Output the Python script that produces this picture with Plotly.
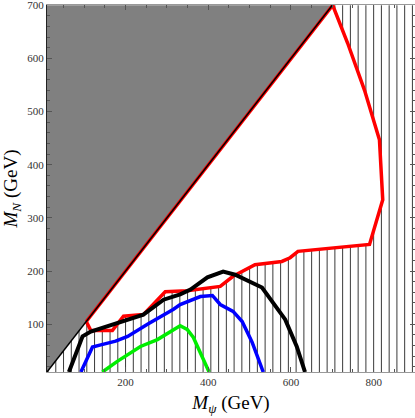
import numpy as np
import plotly.graph_objects as go

# contour curves (M_psi, M_N in GeV)
red_x = [105, 116, 168, 195, 243, 296, 349, 429, 460, 513, 578, 598, 617, 718, 742, 790, 822, 814, 778, 737, 701]
red_y = [105, 88, 88, 115, 118, 161, 163, 171, 190, 212, 218, 225, 237, 244, 246, 250, 334, 447, 540, 629, 700]

black_x = [63, 96, 116, 164, 219, 243, 292, 332, 357, 398, 436, 465, 530, 586, 614, 634]
black_y = [10, 77, 86, 98, 113, 118, 146, 156, 165, 188, 199, 193, 169, 109, 58, 10]

blue_x = [92, 120, 140, 176, 205, 253, 316, 332, 381, 410, 429, 460, 482, 506, 533]
blue_y = [10, 57, 61, 68, 77, 100, 128, 137, 152, 154, 137, 124, 105, 66, 10]

green_x = [144, 180, 236, 277, 332, 349, 364, 400, 402]
green_y = [10, 30, 58, 71, 97, 90, 75, 15, 10]

x_lo, x_hi = 10, 900
y_lo, y_hi = 10, 700
hatch_x = np.arange(12.5, 900, 18.75)

# closed red region: red curve then back down the diagonal
poly_x = red_x + [red_x[0]]
poly_y = red_y + [red_y[0]]

hx, hy = [], []
for x in hatch_x:
    ys = []
    for i in range(len(poly_x) - 1):
        x1, y1, x2, y2 = poly_x[i], poly_y[i], poly_x[i + 1], poly_y[i + 1]
        if (x1 <= x < x2) or (x2 <= x < x1):
            ys.append(y1 + (x - x1) * (y2 - y1) / (x2 - x1))
    top = min(x, y_hi)
    bounds = [y_lo] + sorted(y for y in ys if y_lo < y < top) + [top]
    for j in range(0, len(bounds) - 1, 2):
        hx += [x, x, None]
        hy += [bounds[j], bounds[j + 1], None]

fig = go.Figure()
fig.add_trace(go.Scatter(x=hx, y=hy, mode='lines', line=dict(color='#3a3a3a', width=1),
                         hoverinfo='skip'))
# kinematically forbidden triangle
fig.add_trace(go.Scatter(x=[x_lo, x_lo, y_hi, x_lo], y=[y_lo, y_hi, y_hi, y_lo], mode='lines',
                         fill='toself', fillcolor='#808080', line=dict(width=0)))
fig.add_trace(go.Scatter(x=green_x, y=green_y, mode='lines', line=dict(color='#00ee00', width=3.5)))
fig.add_trace(go.Scatter(x=blue_x, y=blue_y, mode='lines', line=dict(color='#0000ff', width=3.5)))
fig.add_trace(go.Scatter(x=poly_x, y=poly_y, mode='lines', line=dict(color='#ff0000', width=3.5)))
fig.add_trace(go.Scatter(x=[x_lo, y_hi], y=[y_lo, y_hi], mode='lines', line=dict(color='black', width=1.5)))
fig.add_trace(go.Scatter(x=black_x, y=black_y, mode='lines', line=dict(color='black', width=4)))

axis_font = dict(family='Liberation Serif', size=11, color='#333')
fig.update_layout(
    width=415, height=418,
    margin=dict(l=47, r=0, t=5, b=46),
    plot_bgcolor='white', paper_bgcolor='white',
    showlegend=False,
    font=dict(family='Liberation Serif'),
    xaxis=dict(range=[x_lo, x_hi], tickvals=[200, 400, 600, 800], ticks='inside', ticklen=5,
               tickcolor='#555', mirror='ticks', showline=True, linecolor='#999', showgrid=False,
               zeroline=False, tickfont=axis_font, automargin=False,
               minor=dict(dtick=50, tick0=0, ticks='inside', ticklen=3, tickcolor='#555'),
               title=dict(text='<i>M</i><sub><i>ψ</i></sub> (GeV)', font=dict(size=19, color='black'),
                          standoff=8)),
    yaxis=dict(range=[y_lo, y_hi + 0.5], tickvals=[100, 200, 300, 400, 500, 600, 700], ticks='inside',
               ticklen=5, tickcolor='#555', mirror='ticks', showline=True, linecolor='#222',
               showgrid=False, zeroline=False, tickfont=axis_font, automargin=False,
               ticklabeloverflow='allow',
               minor=dict(dtick=20, tick0=0, ticks='inside', ticklen=3, tickcolor='#555'),
               title=dict(text='<i>M</i><sub><i>N</i></sub> (GeV)', font=dict(size=19, color='black'),
                          standoff=4)),
)

# page has an 8px body margin by default, drop it so the figure fills the window
fig.write_html("out.html", config={'displayModeBar': False},
               post_script="document.body.style.margin='0';")
